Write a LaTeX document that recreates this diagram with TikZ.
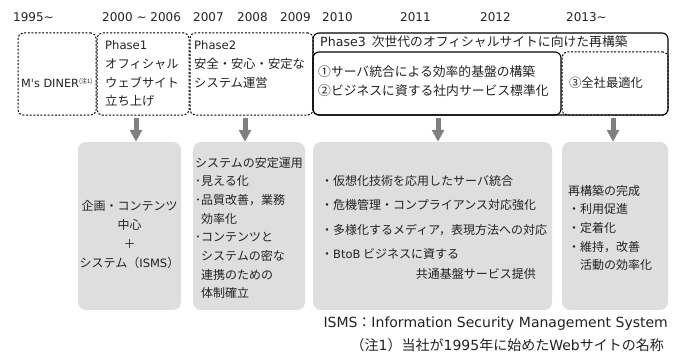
\documentclass[tikz,border=0pt]{standalone}
\usepackage{fontspec}
\setmainfont{Noto Sans CJK JP}
\newfontfamily\latfont{DejaVu Sans}
\newcommand{\latn}[1]{{\latfont #1}}
\usetikzlibrary{fit,arrows.meta}
\definecolor{boxgray}{HTML}{DEDEDE}
\definecolor{arrgray}{HTML}{808080}
\definecolor{txt}{HTML}{222222}
\newcommand{\mylines}[2][l]{\begin{tabular}[t]{@{}#1@{}}#2\end{tabular}}
\tikzset{
  dbox/.style={draw=black, line width=1pt, dash pattern=on 2pt off 1.6pt, rounded corners=5pt, inner sep=0pt},
  sbox/.style={draw=black, line width=1.1pt, rounded corners=6pt, inner sep=0pt},
  gbox/.style={fill=boxgray, rounded corners=8pt, inner sep=0pt},
  garrow/.style={draw=arrgray, line width=5pt, -{Triangle[length=12pt,width=12pt]}, shorten <=2pt},
  yr/.style={anchor=base west, inner sep=0pt, font=\latfont\fontsize{12}{14}\selectfont, text=txt},
  tl/.style={anchor=base west, inner sep=0pt, text=txt},
}
\begin{document}
\begin{tikzpicture}[x=1pt,y=-1pt]
\useasboundingbox (0,0) rectangle (677,353);
% years
\node[yr] (y1) at (13,21.5) {1995\char"007E};
\node[yr] (y2) at (102,21.5) {2000 \char"007E\ 2006};
\node[yr] (y3) at (193,21.5) {2007};
\node[yr] (y4) at (237,21.5) {2008};
\node[yr] (y5) at (280,21.5) {2009};
\node[yr] (y6) at (322,21.5) {2010};
\node[yr] (y7) at (400,21.5) {2011};
\node[yr] (y8) at (480,21.5) {2012};
\node[yr] (y9) at (566,21.5) {2013\char"007E};
% top boxes
\node[dbox, fit={(18,33) (96,115)}] (b1) {};
\node[dbox, fit={(97,33) (189,115)}] (b2) {};
\node[dbox, fit={(190,33) (313,115)}] (b3) {};
\node[dbox, fit={(562,52) (668,115)}] (b5) {};
\node[sbox, fit={(313,33) (668,115)}] (b4) {};
\node[sbox, fit={(313,52) (561,115)}] (b4a) {};
% top texts
\node[tl, font=\fontsize{11}{13}\selectfont] (t1) at (21,87) {\latn{\fontsize{11.3}{13}\selectfont M's DINER}\raisebox{4pt}{\fontsize{6}{6}\selectfont (注1)}};
\node[tl, font=\fontsize{12.3}{18.5}\selectfont] (t2) at (105,50) {\mylines{\latn{\fontsize{11.6}{14}\selectfont Phase1}\\オフィシャル\\ウェブサイト\\立ち上げ}};
\node[tl, font=\fontsize{12.3}{18.5}\selectfont] (t3) at (194,50) {\mylines{\latn{\fontsize{11.6}{14}\selectfont Phase2}\\安全・安心・安定な\\システム運営}};
\node[tl, font=\fontsize{12.8}{19}\selectfont] (t4) at (320,47) {\latn{\fontsize{12.6}{14}\selectfont Phase3}\hspace{6pt}次世代のオフィシャルサイトに向けた再構築};
\node[tl, font=\fontsize{12.8}{19}\selectfont] (t5) at (318,77) {\mylines{①サーバ統合による効率的基盤の構築\\②ビジネスに資する社内サービス標準化}};
\node[tl, font=\fontsize{12.3}{18}\selectfont, anchor=base] (t6) at (606,87) {③全社最適化};
% bottom boxes
\node[gbox, fit={(78,142) (181,310)}] (pA) {};
\node[gbox, fit={(193,142) (305,310)}] (pB) {};
\node[gbox, fit={(313,142) (552,310)}] (pC) {};
\node[gbox, fit={(562,142) (668,310)}] (pD) {};
% arrows
\coordinate (ar1) at (136,0);
\coordinate (ar2) at (245,0);
\coordinate (ar3) at (438,0);
\coordinate (ar4) at (613,0);
\draw[garrow] (b2.south -| ar1) -- (pA.north -| ar1);
\draw[garrow] (b3.south -| ar2) -- (pB.north -| ar2);
\draw[garrow] (b4.south -| ar3) -- (pC.north -| ar3);
\draw[garrow] (b4.south -| ar4) -- (pD.north -| ar4);
% bottom texts
\node[tl, font=\fontsize{12}{19}\selectfont, anchor=base] (tA) at (129.5,210) {\mylines[c]{企画・コンテンツ\\中心\\＋\\システム（\latn{\fontsize{11.5}{14}\selectfont ISMS}）}};
\node[tl, font=\fontsize{12}{18.7}\selectfont] (tB) at (195,167) {\mylines{システムの安定運用\\･見える化\\･品質改善，業務\\\hspace{6pt}効率化\\･コンテンツと\\\hspace{6pt}システムの密な\\\hspace{6pt}連携のための\\\hspace{6pt}体制確立}};
\node[tl, font=\fontsize{12}{24.5}\selectfont] (tC) at (321,185) {\mylines{・仮想化技術を応用したサーバ統合\\・危機管理・コンプライアンス対応強化\\・多様化するメディア，表現方法への対応\\・\latn{\fontsize{11.5}{14}\selectfont BtoB} ビジネスに資する}};
\node[tl, font=\fontsize{12}{18}\selectfont, anchor=base east] (tC2) at (536,278) {共通基盤サービス提供};
\node[tl, font=\fontsize{12}{18.7}\selectfont] (tD) at (568,195) {\mylines{再構築の完成\\・利用促進\\・定着化\\・維持，改善\\\hspace{12pt}活動の効率化}};
% footnotes
\node[tl, font=\fontsize{14}{16}\selectfont, anchor=base east] (f1) at (668,327) {\latn{ISMS}：\latn{Information Security Management System}};
\node[tl, font=\fontsize{14}{16}\selectfont, anchor=base east] (f2) at (664,350) {（注\latn{1}）当社が\latn{1995}年に始めた\latn{Web}サイトの名称};
\end{tikzpicture}
\end{document}
